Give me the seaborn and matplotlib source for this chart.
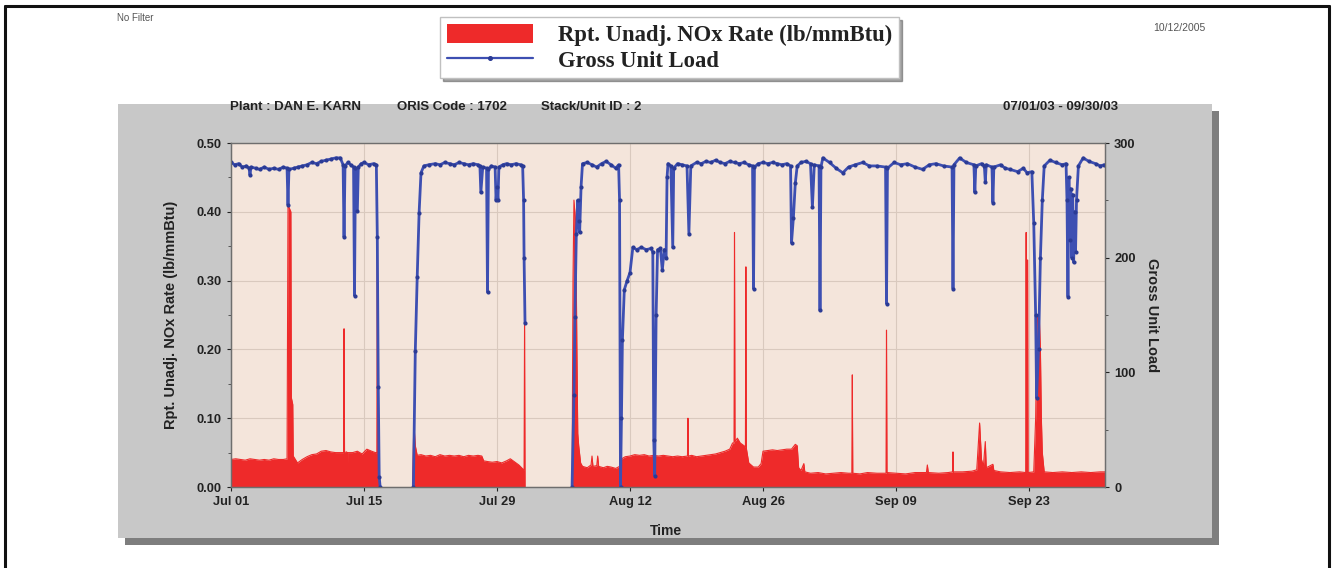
import numpy as np
import pandas as pd
import matplotlib
matplotlib.use('Agg')
import matplotlib.pyplot as plt
from matplotlib.patches import Rectangle, Patch
from matplotlib.lines import Line2D
from matplotlib.ticker import MultipleLocator
import seaborn as sns

sns.set_style('ticks')
plt.rcParams['font.family'] = ['Liberation Sans', 'DejaVu Sans']
plt.rcParams['font.weight'] = 'bold'

# ---- data (days since 07/01/03) ----
start = pd.Timestamp('2003-07-01')
end = pd.Timestamp('2003-10-01')
run_start = [0.0, 19.1, 35.9]   # unit back on line after outages

load_day = [0.0, 0.4, 0.8, 1.2, 1.6, 1.9, 2.0, 2.1, 2.6, 3.0, 3.5, 4.0, 4.5, 5.0, 5.5, 5.9, 6.0, 6.1,
            6.6, 7.0, 7.5, 8.0, 8.5, 9.0, 9.5, 10.0, 10.5, 11.0, 11.5, 11.8, 11.9, 12.0, 12.3, 12.6,
            12.9, 13.0, 13.1, 13.3, 13.4, 13.7, 14.0, 14.5, 15.0, 15.3, 15.4, 15.5, 15.6, 15.7,
            19.2, 19.4, 19.6, 19.8, 20.0, 20.3, 20.8, 21.5, 22.0, 22.5, 23.0, 23.5, 24.0, 24.5, 25.0,
            25.5, 26.0, 26.2, 26.3, 26.5, 26.9, 27.0, 27.1, 27.4, 27.8, 27.9, 28.0, 28.1, 28.2, 28.6,
            29.0, 29.5, 30.0, 30.5, 30.7, 30.8, 30.85, 30.95,
            35.9, 36.1, 36.2, 36.35, 36.5, 36.6, 36.7, 36.85, 37.0, 37.5, 38.0, 38.5, 39.0, 39.5,
            40.0, 40.5, 40.8, 40.9, 41.0, 41.1, 41.2, 41.4, 41.7, 42.0, 42.3, 42.7, 43.2, 43.7, 44.2,
            44.4, 44.5, 44.6, 44.75, 44.9, 45.2, 45.4, 45.6, 45.8, 45.9, 46.0, 46.3, 46.5, 46.6, 47.0,
            47.5, 48.0, 48.2, 48.4, 49.0, 49.5, 50.0, 50.5, 51.0, 51.5, 52.0, 52.5, 53.0, 53.5, 54.0,
            54.5, 54.9, 55.0, 55.1, 55.5, 56.0, 56.5, 57.0, 57.5, 58.0, 58.5, 58.9, 59.0, 59.2, 59.4,
            59.6, 60.0, 60.5, 61.0, 61.2, 61.4, 61.9, 62.0, 62.1, 62.3, 63.0, 63.7, 64.4, 65.0, 65.7,
            66.5, 67.2, 68.0, 68.9, 69.0, 69.1, 69.8, 70.5, 71.2, 72.0, 72.8, 73.5, 74.2, 75.0, 75.9,
            76.0, 76.1, 76.7, 77.4, 78.2, 78.3, 78.4, 79.0, 79.3, 79.4, 79.5, 80.1, 80.2, 80.3, 81.0,
            81.5, 82.0, 82.8, 83.4, 83.8, 84.3, 84.5, 84.7, 84.8, 85.0, 85.2, 85.4, 85.6, 86.2, 86.8,
            87.5, 87.9, 88.0, 88.1, 88.2, 88.3, 88.4, 88.5, 88.6, 88.7, 88.8, 88.9, 89.0, 89.2, 89.7,
            90.3, 91.0, 91.5, 91.9]
load_mw = [283, 281, 282, 279, 280, 278, 272, 279, 278, 277, 279, 277, 278, 277, 279, 278, 246, 277,
           278, 279, 280, 281, 283, 282, 284, 285, 286, 287, 287, 281, 218, 280, 283, 281,
           279, 167, 278, 241, 279, 282, 283, 281, 282, 281, 218, 87, 9, 0,
           0, 119, 183, 239, 274, 280, 281, 282, 281, 283, 282, 281, 283, 282, 281,
           282, 281, 280, 257, 279, 278, 170, 277, 280, 279, 250, 262, 250, 279, 281,
           282, 281, 282, 281, 280, 250, 200, 143,
           0, 80, 148, 221, 250, 232, 222, 262, 282, 283, 281, 279, 282, 284,
           281, 278, 281, 250, 0, 60, 128, 172, 180, 187, 209, 207, 209, 207, 208,
           205, 41, 10, 150, 207, 208, 189, 207, 200, 270, 282, 280, 209, 278, 282,
           281, 280, 221, 280, 283, 282, 284, 283, 285, 283, 282, 284, 283, 282, 283,
           281, 280, 173, 279, 282, 283, 282, 283, 282, 281, 282, 280, 213, 235, 265,
           280, 283, 284, 282, 244, 281, 280, 154, 279, 287, 283, 278, 274, 279, 281,
           283, 280, 280, 279, 160, 278, 283, 281, 282, 279, 277, 281, 282, 280, 279,
           173, 281, 287, 283, 281, 257, 280, 282, 280, 266, 281, 279, 248, 279, 281,
           278, 277, 275, 278, 274, 275, 230, 150, 78, 120, 200, 250, 280, 285, 283,
           281, 282, 250, 166, 270, 215, 260, 200, 255, 196, 240, 205, 250, 280, 287,
           284, 282, 280, 281]

nox_day = [0.0, 0.5, 1.0, 1.5, 2.0, 2.5, 3.0, 3.5, 4.0, 4.5, 5.0, 5.5, 5.9, 6.0, 6.3, 6.35, 6.5, 6.55,
           7.0, 7.5, 8.0, 8.5, 9.0, 9.5, 10.0, 10.5, 11.0, 11.5, 11.85, 11.9, 11.95, 12.18, 12.2, 12.25,
           12.27, 12.8, 13.3, 13.8, 14.3, 14.8, 15.2, 15.35, 15.4, 15.45, 15.6,
           19.1, 19.25, 19.4, 19.6, 20.0, 20.5, 21.0, 21.5, 22.0, 22.5, 23.0, 23.5, 24.0, 24.5, 25.0,
           25.5, 26.0, 26.4, 26.6, 27.0, 27.5, 28.0, 28.5, 29.0, 29.4, 29.8, 30.3, 30.8, 30.85, 30.9,
           30.95,
           35.9, 36.0, 36.1, 36.3, 36.4, 36.5, 36.6, 36.8, 37.0, 37.5, 37.9, 38.0, 38.1, 38.5, 38.6,
           38.7, 39.2, 39.6, 40.0, 40.5, 40.9, 41.0, 41.5, 42.0, 42.5, 43.0, 43.5, 44.0, 44.5, 45.0,
           45.5, 46.0, 46.5, 47.0, 47.5, 48.05, 48.1, 48.15, 48.5, 49.0, 49.5, 50.0, 50.5, 51.0, 51.5,
           52.0, 52.5, 52.8, 52.95, 53.0, 53.05, 53.3, 53.6, 54.0, 54.15, 54.2, 54.25, 54.5, 55.0,
           55.5, 55.8, 56.0, 56.5, 57.0, 57.5, 58.0, 58.5, 59.0, 59.4, 59.6, 59.75, 60.0, 60.3, 60.4,
           61.0, 61.8, 62.6, 63.4, 64.2, 65.0, 65.35, 65.4, 65.45, 66.2, 67.0, 68.0, 68.95, 69.0,
           69.05, 70.0, 71.0, 72.0, 73.2, 73.3, 73.4, 74.5, 75.5, 75.95, 76.0, 76.05, 77.0, 78.0,
           78.5, 78.8, 79.0, 79.2, 79.4, 79.5, 80.2, 80.3, 81.0, 82.0, 83.0, 83.65, 83.7, 83.75,
           83.8, 83.85, 83.9, 84.5, 84.7, 84.8, 84.9, 85.1, 85.2, 85.3, 85.4, 85.6, 86.5, 87.5, 88.5,
           89.5, 90.5, 91.5, 92.0]
nox_rate = [0.040, 0.041, 0.040, 0.039, 0.041, 0.040, 0.039, 0.040, 0.039, 0.041, 0.040, 0.040, 0.041,
            0.41, 0.40, 0.13, 0.12, 0.045,
            0.035, 0.040, 0.044, 0.047, 0.048, 0.052, 0.053, 0.051, 0.050, 0.050, 0.050, 0.23, 0.050,
            0.051, 0.0, 0.0, 0.050, 0.050, 0.052, 0.048, 0.055, 0.052, 0.050, 0.050, 0.36, 0.050, 0.0,
            0.0, 0.093, 0.060, 0.046, 0.047, 0.045, 0.046, 0.044, 0.047, 0.045, 0.046, 0.045, 0.046,
            0.044, 0.046, 0.045, 0.046, 0.045, 0.038, 0.037, 0.036, 0.037, 0.035, 0.038, 0.041, 0.037,
            0.032, 0.025, 0.025, 0.235, 0.0,
            0.0, 0.30, 0.417, 0.38, 0.21, 0.078, 0.060, 0.035, 0.030, 0.028, 0.032, 0.045, 0.030,
            0.031, 0.045, 0.030, 0.028, 0.030, 0.029, 0.027, 0.030, 0.040, 0.044, 0.045, 0.047, 0.046,
            0.047, 0.045, 0.046, 0.045, 0.046, 0.045, 0.044, 0.045, 0.044, 0.045, 0.10, 0.045, 0.046,
            0.044, 0.045, 0.046, 0.047, 0.048, 0.050, 0.052, 0.055, 0.064, 0.064, 0.37, 0.066, 0.071,
            0.064, 0.060, 0.058, 0.32, 0.056, 0.035, 0.029, 0.029, 0.034, 0.052, 0.053, 0.054, 0.053,
            0.054, 0.055, 0.055, 0.062, 0.060, 0.028, 0.024, 0.034, 0.022, 0.020, 0.021, 0.019, 0.020,
            0.021, 0.020, 0.020, 0.163, 0.020, 0.019, 0.021, 0.020, 0.020, 0.228, 0.021, 0.020, 0.019,
            0.021, 0.021, 0.032, 0.021, 0.020, 0.021, 0.022, 0.051, 0.022, 0.022, 0.023, 0.025, 0.093,
            0.040, 0.030, 0.066, 0.028, 0.033, 0.024, 0.022, 0.021, 0.022, 0.021, 0.37, 0.021, 0.021,
            0.33, 0.021, 0.022, 0.10, 0.20, 0.247, 0.24, 0.20, 0.10, 0.05, 0.022, 0.021, 0.022, 0.021,
            0.022, 0.021, 0.022, 0.022]

rate_ticks = [0.0, 0.1, 0.2, 0.3, 0.4, 0.5]
load_ticks = [0, 100, 200, 300]
tick_dates = ['2003-07-01', '2003-07-15', '2003-07-29', '2003-08-12',
              '2003-08-26', '2003-09-09', '2003-09-23']

load = pd.DataFrame({'time': start + pd.to_timedelta(load_day, unit='D'), 'load': load_mw})
load['run'] = np.searchsorted(run_start, load_day, side='right')
nox = pd.DataFrame({'time': start + pd.to_timedelta(nox_day, unit='D'), 'rate': nox_rate})
nox['run'] = np.searchsorted(run_start, nox_day, side='right')

RED = '#ee2a2a'
BLUE = '#3d4fb2'
INK = '#222222'
W, H = 1333, 568


def fx(px):
    return px / W


def fy(py):
    return 1 - py / H


fig = plt.figure(figsize=(W / 100, H / 100), dpi=100)

# grey report panel with drop shadow
fig.add_artist(Rectangle((fx(125), fy(545)), 1094 / W, 434 / H, transform=fig.transFigure,
                         fc='#7e7e7e', ec='none', zorder=-3))
fig.add_artist(Rectangle((fx(118), fy(538)), 1094 / W, 434 / H, transform=fig.transFigure,
                         fc='#c8c8c8', ec='none', zorder=-2))

ax = fig.add_axes([fx(231), fy(487), (1105 - 231) / W, (487 - 143) / H])
ax.set_facecolor('#f4e5db')
ax2 = ax.twinx()

sns.lineplot(data=nox, x='time', y='rate', units='run', estimator=None, color=RED, lw=0.8, ax=ax)
ax.fill_between(nox['time'], 0, nox['rate'], color=RED, lw=0)
sns.lineplot(data=load, x='time', y='load', units='run', estimator=None, color=BLUE, lw=2.0,
             marker='o', ms=3, mec='#2b3b95', mfc='#2b3b95', mew=0, ax=ax2)

ax.set_xlim(start, end)
ax.set_ylim(0, 0.5)
ax2.set_ylim(0, 300)
ax.set_yticks(rate_ticks)
ax.set_yticklabels([f'{v:.2f}' for v in rate_ticks])
ax.yaxis.set_minor_locator(MultipleLocator(0.05))
ax2.set_yticks(load_ticks)
ax2.set_yticklabels([str(v) for v in load_ticks])
ax2.yaxis.set_minor_locator(MultipleLocator(50))
xt = pd.to_datetime(tick_dates)
ax.set_xticks(xt)
ax.set_xticklabels([d.strftime('%b %d') for d in xt])

ax.grid(True, color='#d9c9be', lw=0.8)
ax.set_axisbelow(True)
for a in (ax, ax2):
    a.tick_params(labelsize=9.3, colors=INK, length=3, width=0.8)
    a.tick_params(which='minor', length=2, width=0.6, colors='#444444')
    for s in a.spines.values():
        s.set_color('#6e6e6e')
        s.set_linewidth(0.9)
ax.spines['top'].set_color('#a09388')

ax.set_ylabel('Rpt. Unadj. NOx Rate (lb/mmBtu)', fontsize=10.5, fontweight='bold', color=INK)
ax.yaxis.set_label_coords(-0.061, 0.5)
ax2.set_ylabel('Gross Unit Load', fontsize=10.5, fontweight='bold', color=INK, rotation=270,
               va='center')
ax2.yaxis.set_label_coords(1.054, 0.5)
ax.set_xlabel('Time', fontsize=10, fontweight='bold', color=INK)
ax.xaxis.set_label_coords(0.498, -0.108)

# panel header and page texts
fig.text(fx(230), fy(107), 'Plant : DAN E. KARN', fontsize=9.5, color=INK, va='center')
fig.text(fx(397), fy(107), 'ORIS Code : 1702', fontsize=9.5, color=INK, va='center')
fig.text(fx(541), fy(107), 'Stack/Unit ID : 2', fontsize=9.5, color=INK, va='center')
fig.text(fx(1118), fy(107), '07/01/03 - 09/30/03', fontsize=9.5, color=INK, va='center', ha='right')
fig.text(fx(117), fy(18), 'No Filter', fontsize=7, color='#555555', va='center', fontweight='normal')
fig.text(fx(1153), fy(28), '10/12/2005', fontsize=7.5, color='#555555', va='center',
         fontweight='normal')

handles = [Patch(fc=RED, ec='none'),
           Line2D([], [], color=BLUE, lw=1.6, marker='o', ms=2.6, mec='#2b3b95', mfc='#2b3b95')]
leg = fig.legend(handles, ['Rpt. Unadj. NOx Rate (lb/mmBtu)', 'Gross Unit Load'],
                 loc='upper left', bbox_to_anchor=(fx(440), fy(17)), borderaxespad=0,
                 frameon=True, fancybox=False, shadow=True, framealpha=1, edgecolor='#c0c0c0',
                 prop={'family': 'Liberation Serif', 'weight': 'bold', 'size': 16.3},
                 handlelength=3.8, handleheight=0.9, handletextpad=1.1, labelspacing=0.15,
                 borderpad=0.3)
for t in leg.get_texts():
    t.set_color(INK)

# page frame
for xs, ys in [([fx(5), fx(5)], [0, fy(6)]), ([fx(5), fx(1329)], [fy(6), fy(6)]),
               ([fx(1329), fx(1329)], [fy(6), 0])]:
    fig.add_artist(Line2D(xs, ys, lw=2.2, color='#111111', transform=fig.transFigure))

fig.savefig('out.png', dpi=100)
